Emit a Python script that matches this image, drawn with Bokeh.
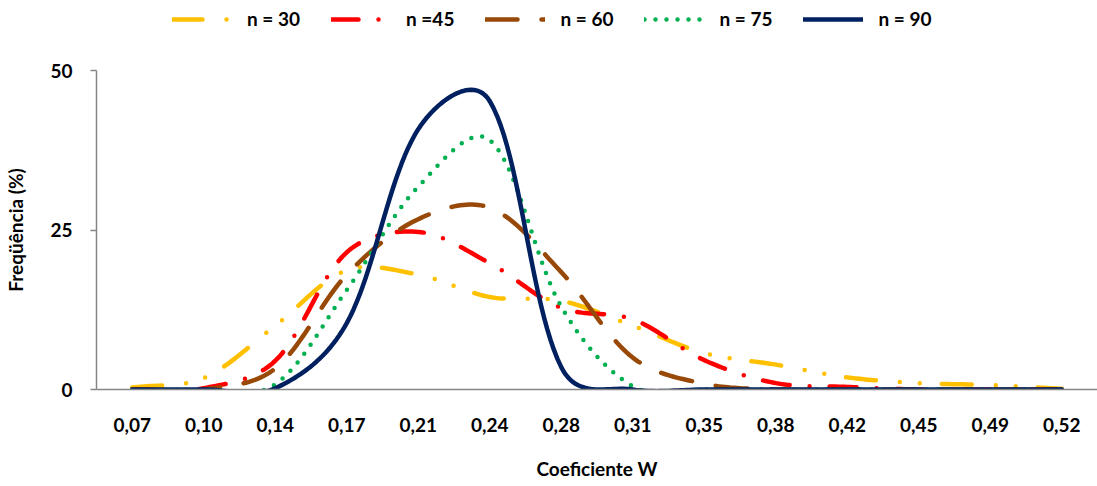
import numpy as np
from bokeh.plotting import figure
from bokeh.layouts import column
from bokeh.models import FixedTicker, Legend, LegendItem, Range1d
from bokeh.embed import file_html
from bokeh.resources import INLINE

# ---------------- data ----------------
categories = ["0,07", "0,10", "0,14", "0,17", "0,21", "0,24", "0,28",
              "0,31", "0,35", "0,38", "0,42", "0,45", "0,49", "0,52"]
n30 = [0.3, 1.8, 10.0, 18.7, 18.0, 14.5, 13.9, 10.0, 5.7, 3.9, 1.9, 1.0, 0.7, 0.1]
n45 = [0.0, 0.2, 4.5, 21.5, 24.7, 19.8, 12.8, 11.0, 4.6, 1.0, 0.4, 0.0, 0.0, 0.0]
n60 = [0.0, 0.0, 3.3, 18.0, 26.7, 28.5, 18.4, 5.0, 0.9, 0.0, 0.0, 0.0, 0.0, 0.0]
n75 = [0.0, 0.0, 0.8, 15.6, 31.8, 39.1, 13.0, 0.5, 0.0, 0.0, 0.0, 0.0, 0.0, 0.0]
n90 = [0.0, 0.0, 0.2, 10.4, 40.8, 45.2, 3.5, 0.0, 0.0, 0.0, 0.0, 0.0, 0.0, 0.0]
series_labels = ["n = 30", "n =45", "n = 60", "n = 75", "n = 90"]
y_ticks = [0, 25, 50]

# ---------------- geometry ----------------
W = 1097
HL = 50                  # legend strip height
H = 486 - HL             # main figure height
ML, MR, MT, MB = 96, 0, 70 - HL, 97
XS = (W - ML - MR) / 14.0          # px per category
YS = (H - MT - MB) / 50.0          # px per unit


def smooth(values, n=24):
    """Excel-like smoothed line (weighted Catmull-Rom bezier)."""
    x = np.arange(len(values), dtype=float)
    y = np.asarray(values, dtype=float)
    P = np.column_stack([x, y])
    S = np.array([XS, YS])

    def d(a, b):
        return np.sqrt(np.hypot(*((a - b) * S)))

    xs, ys = [P[0, 0]], [P[0, 1]]
    m = len(P)
    for i in range(m - 1):
        p0 = P[i - 1] if i > 0 else P[i]
        p1, p2 = P[i], P[i + 1]
        p3 = P[i + 2] if i + 2 < m else P[i + 1]
        d01, d12, d23 = d(p0, p1), d(p1, p2), d(p2, p3)
        f1 = d12 / (d01 + d12) / 3.0 if d01 + d12 > 0 else 0
        f2 = d12 / (d12 + d23) / 3.0 if d12 + d23 > 0 else 0
        c1 = p1 + (p2 - p0) * f1
        c2 = p2 - (p3 - p1) * f2
        t = np.linspace(0, 1, n + 1)[1:, None]
        B = ((1 - t) ** 3) * p1 + 3 * ((1 - t) ** 2) * t * c1 + 3 * (1 - t) * t ** 2 * c2 + t ** 3 * p2
        xs.extend(B[:, 0])
        ys.extend(B[:, 1])
    return xs, ys


FONT = "Lato"
AX = "#868686"

styles = [
    dict(color="#FFC000", dash="30 24 0 20 0 22"),
    dict(color="#FF0000", dash="27 20 0 20"),
    dict(color="#984807", dash="32 24"),
    dict(color="#00B050", dash="0 11"),
    dict(color="#002060", dash="solid"),
]
all_series = [n30, n45, n60, n75, n90]

# ---------------- main chart ----------------
p = figure(width=W, height=H, output_backend="svg", toolbar_location=None, title=None,
           x_range=Range1d(-0.5, 13.5), y_range=Range1d(0, 50),
           min_border_left=ML, min_border_right=MR, min_border_top=MT, min_border_bottom=MB)
p.outline_line_color = None
p.xgrid.visible = False
p.ygrid.visible = False
p.background_fill_color = "white"
p.border_fill_color = "white"

for vals, st in zip(all_series, styles):
    xs, ys = smooth(vals)
    p.line(xs, ys, line_color=st["color"], line_width=4.5, line_dash=st["dash"],
           line_cap="round", line_join="round")

p.xaxis.ticker = FixedTicker(ticks=list(range(len(categories))))
p.xaxis.major_label_overrides = {i: c for i, c in enumerate(categories)}
p.xaxis.major_tick_out = 0
p.xaxis.major_tick_in = 0
p.xaxis.minor_tick_line_color = None
p.xaxis.axis_line_color = AX
p.xaxis.axis_line_width = 1.5
p.xaxis.major_label_standoff = 28
p.xaxis.axis_label = "Coeficiente W"
p.xaxis.axis_label_standoff = 22

p.yaxis.ticker = FixedTicker(ticks=y_ticks)
p.yaxis.major_tick_out = 6
p.yaxis.major_tick_in = 0
p.yaxis.minor_tick_line_color = None
p.yaxis.axis_line_color = AX
p.yaxis.axis_line_width = 1.5
p.yaxis.major_tick_line_color = AX
p.yaxis.major_tick_line_width = 1.5
p.yaxis.major_label_standoff = 18
p.yaxis.axis_label = "Freqüência (%)"
p.yaxis.axis_label_standoff = 20

for ax in (p.xaxis, p.yaxis):
    ax.major_label_text_font = FONT
    ax.major_label_text_font_style = "bold"
    ax.major_label_text_font_size = "19px"
    ax.major_label_text_color = "black"
    ax.axis_label_text_font = FONT
    ax.axis_label_text_font_style = "bold"
    ax.axis_label_text_font_size = "19px"
    ax.axis_label_text_color = "black"

# ---------------- legend strip ----------------
# same series, drawn in a strip whose y-range lies above the data (lines are out of view;
# only the legend entries show)
lg = figure(width=W, height=HL, output_backend="svg", toolbar_location=None, title=None,
            x_range=Range1d(-0.5, 13.5), y_range=Range1d(1000, 1001),
            x_axis_type=None, y_axis_type=None,
            min_border_left=0, min_border_right=0, min_border_top=0, min_border_bottom=0)
lg.outline_line_color = None
lg.xgrid.visible = False
lg.ygrid.visible = False
lg.background_fill_color = "white"
lg.border_fill_color = "white"

leg_renderers = []
for vals, st in zip(all_series, styles):
    r = lg.line(list(range(len(vals))), vals, line_color=st["color"], line_width=4.5,
                line_dash=st["dash"], line_cap="round", line_join="round")
    leg_renderers.append(r)

legend = Legend(
    items=[LegendItem(label=lab, renderers=[r]) for lab, r in zip(series_labels, leg_renderers)],
    location=(76, HL - 30), orientation="horizontal",
    glyph_width=60, glyph_height=20, label_standoff=15, spacing=31,
    padding=0, margin=0, border_line_alpha=0, background_fill_alpha=0,
    label_text_font=FONT, label_text_font_style="bold", label_text_font_size="19px",
    label_text_color="black",
)
lg.add_layout(legend)

layout = column(lg, p, spacing=0)
open("out.html", "w").write(file_html(layout, INLINE))
